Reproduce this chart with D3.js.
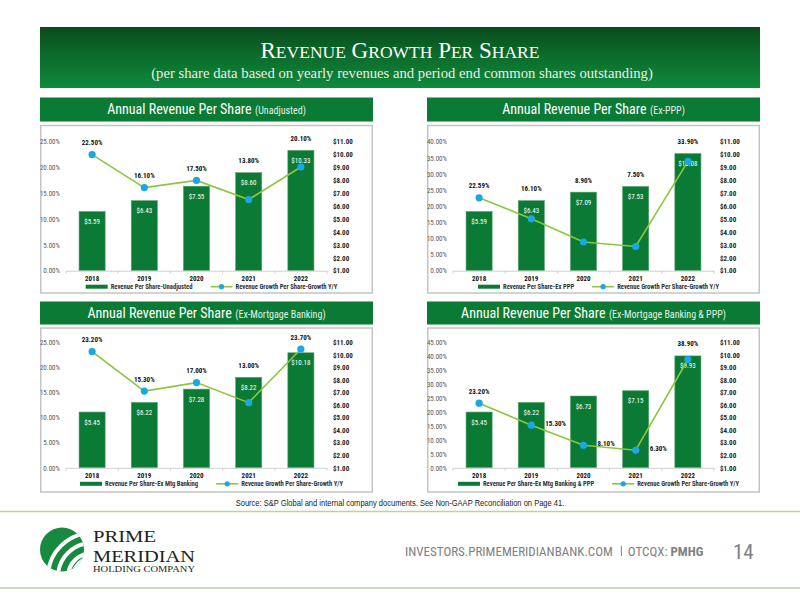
<!DOCTYPE html>
<html><head><meta charset="utf-8">
<script src="https://cdn.jsdelivr.net/npm/d3@7"></script>
<style>body{margin:0;background:#fff} svg{display:block}</style>
</head><body><svg id="c" width="800" height="600"></svg>
<script>
// ---------- data ----------
const years = ["2018", "2019", "2020", "2021", "2022"];
const revUnadj = [5.59, 6.43, 7.55, 8.60, 10.33];
const growthUnadj = [22.50, 16.10, 17.50, 13.80, 20.10];
const revExPPP = [5.59, 6.43, 7.09, 7.53, 10.08];
const growthExPPP = [22.59, 16.10, 8.90, 7.50, 33.90];
const revExMtg = [5.45, 6.22, 7.28, 8.22, 10.18];
const growthExMtg = [23.20, 15.30, 17.00, 13.00, 23.70];
const revExMtgPPP = [5.45, 6.22, 6.73, 7.15, 9.93];
const growthExMtgPPP = [23.20, 15.30, 8.10, 6.30, 38.90];
const pctTicks25 = [0, 5, 10, 15, 20, 25];
const pctTicks40 = [0, 5, 10, 15, 20, 25, 30, 35, 40];
const pctTicks45 = [0, 5, 10, 15, 20, 25, 30, 35, 40, 45];
const dollarTicks = [1, 2, 3, 4, 5, 6, 7, 8, 9, 10, 11];
const panelTitles = ["Annual Revenue Per Share", "Annual Revenue Per Share", "Annual Revenue Per Share", "Annual Revenue Per Share"];
const panelSubtitles = ["(Unadjusted)", "(Ex-PPP)", "(Ex-Mortgage Banking)", "(Ex-Mortgage Banking & PPP)"];
const barLegends = ["Revenue Per Share-Unadjusted", "Revenue Per Share-Ex PPP", "Revenue Per Share-Ex Mtg Banking", "Revenue Per Share-Ex Mtg Banking & PPP"];
const lineLegend = "Revenue Growth Per Share-Growth Y/Y";
const labelPosDefault = ["above", "above", "above", "above", "above"];
const labelPosMtgPPP = ["above", "right", "right", "right", "above"];
const headerTitleWords = ["Revenue", "Growth", "Per", "Share"];
const headerSubtitle = "(per share data based on yearly revenues and period end common shares outstanding)";
const sourceText = "Source: S&P Global and internal company documents. See Non-GAAP Reconciliation on Page 41.";
const footerSite = "INVESTORS.PRIMEMERIDIANBANK.COM";
const footerExch = "OTCQX:";
const footerTicker = "PMHG";
const pageNumber = "14";

// ---------- styles ----------
const SANS = "'Liberation Sans',Arial,sans-serif";
const SERIF = "'Liberation Serif','Times New Roman',serif";
const GREEN = "#0b7a34";
const LINE = "#8cc63f";
const DOT = "#1aa7e6";
const NF = 0.82; // target condensing relative to Liberation Sans

const svg = d3.select("#c");

// find an installed condensed face (falls back to glyph compression)
function measure(fam, stretch) {
  const t = svg.append("text").attr("font-family", fam).attr("font-size", 100)
    .style("font-stretch", stretch).text("Annual Revenue Per Share 0123456789 $%");
  const w = t.node().getComputedTextLength();
  t.remove();
  return w;
}
const baseW = measure("'Liberation Sans'", "normal");
const candidates = [
  ["'Liberation Sans Narrow'", "normal"], ["'Arial Narrow'", "normal"],
  ["'Open Sans'", "75%"], ["'Noto Sans'", "condensed"], ["'Noto Sans'", "62.5%"],
  ["'Roboto'", "condensed"], ["'DejaVu Sans'", "condensed"]
];
let NARROWF = null;
let best = 1;
candidates.forEach(([fam, st]) => {
  const ratio = measure(fam + ",'DejaVu Sans Mono',monospace", st) / baseW;
  if (ratio > 0.7 && ratio < 0.9 && Math.abs(ratio - NF) < Math.abs(best - NF)) {
    best = ratio; NARROWF = { fam: fam + ",sans-serif", st, ratio };
  }
});

function narrow(sel, f) {
  sel.each(function () {
    if (NARROWF && !f) {
      this.setAttribute("font-family", NARROWF.fam);
      this.style.fontStretch = NARROWF.st;
    } else {
      const L = this.getComputedTextLength();
      if (L > 0) {
        this.setAttribute("textLength", (L * (f || NF)).toFixed(2));
        this.setAttribute("lengthAdjust", "spacingAndGlyphs");
      }
    }
  });
  return sel;
}
function narrowW(sel) {
  if (NARROWF) { narrow(sel); return sel.node().getComputedTextLength(); }
  const L = sel.node().getComputedTextLength();
  narrow(sel);
  return L * NF;
}

const defs = svg.append("defs");
const hg = defs.append("linearGradient").attr("id", "hg").attr("x1", 0).attr("y1", 0).attr("x2", 0).attr("y2", 1);
hg.append("stop").attr("offset", "0%").attr("stop-color", "#0a4b1c");
hg.append("stop").attr("offset", "45%").attr("stop-color", "#0c6a2b");
hg.append("stop").attr("offset", "100%").attr("stop-color", "#0f8a3b");

// ---------- header ----------
svg.append("rect").attr("x", 40).attr("y", 27).attr("width", 720).attr("height", 61).attr("fill", "url(#hg)");
const ht = svg.append("text").attr("x", 400).attr("y", 58).attr("text-anchor", "middle")
  .attr("font-family", SERIF).attr("fill", "#fff");
headerTitleWords.forEach((w, i) => {
  ht.append("tspan").attr("font-size", 23).text((i ? " " : "") + w[0].toUpperCase());
  ht.append("tspan").attr("font-size", 17.5).text(w.slice(1).toUpperCase());
});
svg.append("text").attr("x", 402).attr("y", 78).attr("text-anchor", "middle")
  .attr("font-family", SERIF).attr("font-size", 14.7).attr("fill", "#e9efe9").text(headerSubtitle);

// ---------- panels ----------
const rows = [
  { band: 97.5, bandH: 24, box: 125.5, boxH: 167.5, top: 141.7, bottom: 270.7 },
  { band: 301.5, bandH: 23, box: 328, boxH: 164, top: 342.5, bottom: 467.8 }
];
const cols = [40, 427];
const PW = 333;

const panels = [
  { col: 0, row: 0, rev: revUnadj, growth: growthUnadj, ticks: pctTicks25, pos: labelPosDefault },
  { col: 1, row: 0, rev: revExPPP, growth: growthExPPP, ticks: pctTicks40, pos: labelPosDefault },
  { col: 0, row: 1, rev: revExMtg, growth: growthExMtg, ticks: pctTicks25, pos: labelPosDefault },
  { col: 1, row: 1, rev: revExMtgPPP, growth: growthExMtgPPP, ticks: pctTicks45, pos: labelPosMtgPPP }
];

panels.forEach((p, k) => {
  const x0 = cols[p.col], r = rows[p.row];
  const g = svg.append("g");
  // title band
  g.append("rect").attr("x", x0).attr("y", r.band).attr("width", PW).attr("height", r.bandH).attr("fill", GREEN);
  const ty = r.band + r.bandH / 2 + 4.8;
  const tA = g.append("text").attr("y", ty).attr("font-family", SANS).attr("font-size", 14).attr("fill", "#fff").text(panelTitles[k]);
  const tB = g.append("text").attr("y", ty).attr("font-family", SANS).attr("font-size", 10).attr("fill", "#e6efe8").text(panelSubtitles[k]);
  const wA = narrowW(tA), wB = narrowW(tB);
  const tStart = x0 + PW / 2 - (wA + 3.5 + wB) / 2;
  tA.attr("x", tStart);
  tB.attr("x", tStart + wA + 3.5);
  // box
  g.append("rect").attr("x", x0 + 0.75).attr("y", r.box).attr("width", PW - 1.5).attr("height", r.boxH)
    .attr("fill", "#fff").attr("stroke", "#c4c4c4").attr("stroke-width", 1.5);

  const x = d3.scaleBand().domain(years).range([x0 + 26, x0 + 287]).paddingInner(0.5).paddingOuter(0.25);
  const pMax = p.ticks[p.ticks.length - 1];
  const yL = d3.scaleLinear().domain([0, pMax]).range([r.bottom, r.top]);
  const yR = d3.scaleLinear().domain([1, 11]).range([r.bottom, r.top]);

  // left axis
  const la = g.append("g").attr("transform", `translate(${x0 + 22},0)`)
    .call(d3.axisLeft(yL).tickValues(p.ticks).tickSize(0).tickPadding(2).tickFormat(d => d.toFixed(2) + "%"));
  la.select(".domain").remove();
  narrow(la.selectAll("text").attr("font-family", SANS).attr("font-size", 7).attr("fill", "#595959"));
  // right axis
  const ra = g.append("g").attr("transform", `translate(${x0 + 291},0)`)
    .call(d3.axisRight(yR).tickValues(dollarTicks).tickSize(0).tickPadding(2).tickFormat(d => "$" + d.toFixed(2)));
  ra.select(".domain").remove();
  narrow(ra.selectAll("text").attr("font-family", SANS).attr("font-size", 7).attr("font-weight", "bold").attr("fill", "#222"));

  // bars
  g.append("g").selectAll("rect").data(p.rev).join("rect")
    .attr("x", (d, i) => x(years[i])).attr("width", x.bandwidth())
    .attr("y", d => yR(d)).attr("height", d => r.bottom - yR(d)).attr("fill", GREEN)
    .attr("stroke", "#5aa36f").attr("stroke-width", 0.6);
  narrow(g.append("g").selectAll("text").data(p.rev).join("text")
    .attr("x", (d, i) => x(years[i]) + x.bandwidth() / 2).attr("y", d => yR(d) + 12.5)
    .attr("text-anchor", "middle").attr("font-family", SANS).attr("font-size", 7).attr("fill", "#fff")
    .text(d => "$" + d.toFixed(2)));

  // category axis
  const ca = g.append("g").attr("transform", `translate(0,${r.bottom})`)
    .call(d3.axisBottom(x).tickSize(0).tickPadding(5.5));
  ca.select(".domain").attr("stroke", "#d0d0d0").attr("stroke-width", 1);
  narrow(ca.selectAll("text").attr("font-family", SANS).attr("font-size", 7).attr("font-weight", "bold").attr("fill", "#111"));
  const bounds = years.map(yv => x(yv) - x.step() * x.paddingInner() / 2).concat([x0 + 287]);
  g.append("g").selectAll("line").data(bounds).join("line")
    .attr("x1", d => d).attr("x2", d => d).attr("y1", r.bottom).attr("y2", r.bottom + 3)
    .attr("stroke", "#d0d0d0").attr("stroke-width", 1);

  // growth line
  const cx = i => x(years[i]) + x.bandwidth() / 2;
  const line = d3.line().x((d, i) => cx(i)).y(d => yL(d));
  g.append("path").datum(p.growth).attr("d", line).attr("fill", "none").attr("stroke", LINE).attr("stroke-width", 1.6);
  g.append("g").selectAll("circle").data(p.growth).join("circle")
    .attr("cx", (d, i) => cx(i)).attr("cy", d => yL(d)).attr("r", 3.6).attr("fill", DOT);
  narrow(g.append("g").selectAll("text").data(p.growth).join("text")
    .attr("x", (d, i) => p.pos[i] === "right" ? cx(i) + 14 : cx(i))
    .attr("y", (d, i) => p.pos[i] === "right" ? yL(d) + 1 : Math.min(yL(d), yR(p.rev[i])) - 9.5)
    .attr("text-anchor", (d, i) => p.pos[i] === "right" ? "start" : "middle")
    .attr("font-family", SANS).attr("font-size", 7).attr("font-weight", "bold").attr("fill", "#111")
    .text(d => d.toFixed(2) + "%"));

  // legend
  const ly = r.bottom + 16;
  const lg = g.append("g");
  const t1 = lg.append("text").attr("y", ly + 2.4).attr("font-family", SANS).attr("font-size", 6.6)
    .attr("font-weight", "bold").attr("fill", "#333").text(barLegends[k]);
  const t2 = lg.append("text").attr("y", ly + 2.4).attr("font-family", SANS).attr("font-size", 6.6)
    .attr("font-weight", "bold").attr("fill", "#333").text(lineLegend);
  const w1 = narrowW(t1), w2 = narrowW(t2);
  const total = 22 + 3 + w1 + 18 + 22 + 3 + w2;
  const sx = x0 + PW / 2 + 5 - total / 2;
  lg.append("rect").attr("x", sx).attr("y", ly - 2).attr("width", 22).attr("height", 4).attr("fill", GREEN);
  t1.attr("x", sx + 25);
  const s2 = sx + 25 + w1 + 18;
  lg.append("line").attr("x1", s2).attr("x2", s2 + 22).attr("y1", ly).attr("y2", ly).attr("stroke", LINE).attr("stroke-width", 1.6);
  lg.append("circle").attr("cx", s2 + 11).attr("cy", ly).attr("r", 2.6).attr("fill", DOT);
  t2.attr("x", s2 + 25);
});

// ---------- source & footer ----------
narrow(svg.append("text").attr("x", 400).attr("y", 506).attr("text-anchor", "middle").attr("font-family", SANS)
  .attr("font-size", 8.4).attr("fill", "#222").text(sourceText), 0.9);
svg.append("line").attr("x1", 0).attr("x2", 800).attr("y1", 511.5).attr("y2", 511.5).attr("stroke", "#b5d6a0").attr("stroke-width", 1.6);
svg.append("line").attr("x1", 0).attr("x2", 800).attr("y1", 588).attr("y2", 588).attr("stroke", "#b5d6a0").attr("stroke-width", 1.6);

// logo globe
const cp = defs.append("clipPath").attr("id", "globe");
cp.append("circle").attr("cx", 62).attr("cy", 549.5).attr("r", 22);
const lgG = svg.append("g").attr("clip-path", "url(#globe)");
lgG.append("rect").attr("x", 38).attr("y", 525).attr("width", 48).attr("height", 50).attr("fill", "#178a40");
[14, 24, 34, 44].forEach((rr, i) => {
  lgG.append("circle").attr("cx", 92).attr("cy", 577).attr("r", rr).attr("fill", "none")
    .attr("stroke", "#fff").attr("stroke-width", i === 0 ? 14 : 4);
});
const logoT = (txt, y, fs, w) => svg.append("text").attr("x", 93).attr("y", y).attr("font-family", SERIF)
  .attr("font-size", fs).attr("fill", "#231f20").attr("textLength", w).attr("lengthAdjust", "spacingAndGlyphs").text(txt);
logoT("PRIME", 541.5, 17.5, 63);
logoT("MERIDIAN", 561.5, 17.5, 102);
logoT("HOLDING COMPANY", 572.3, 7.8, 102);

// footer: lay pieces out from their measured widths
const FG = "#808080";
const f1 = svg.append("text").attr("x", 405).attr("y", 556).attr("font-family", SANS).attr("font-size", 13).attr("fill", FG).text(footerSite);
const fw1 = narrowW(f1);
const barX = 405 + fw1 + 8;
svg.append("rect").attr("x", barX).attr("y", 546).attr("width", 1).attr("height", 10).attr("fill", FG);
const f2 = svg.append("text").attr("x", barX + 7).attr("y", 556).attr("font-family", SANS).attr("font-size", 13).attr("fill", FG).text(footerExch);
const fw2 = narrowW(f2);
const f3 = svg.append("text").attr("x", barX + 7 + fw2 + 3).attr("y", 556).attr("font-family", SANS).attr("font-size", 13)
  .attr("font-weight", "bold").attr("fill", FG).text(footerTicker);
narrowW(f3);
narrow(svg.append("text").attr("x", 733).attr("y", 559).attr("font-family", SANS).attr("font-size", 21).attr("fill", FG).text(pageNumber));
</script></body></html>
